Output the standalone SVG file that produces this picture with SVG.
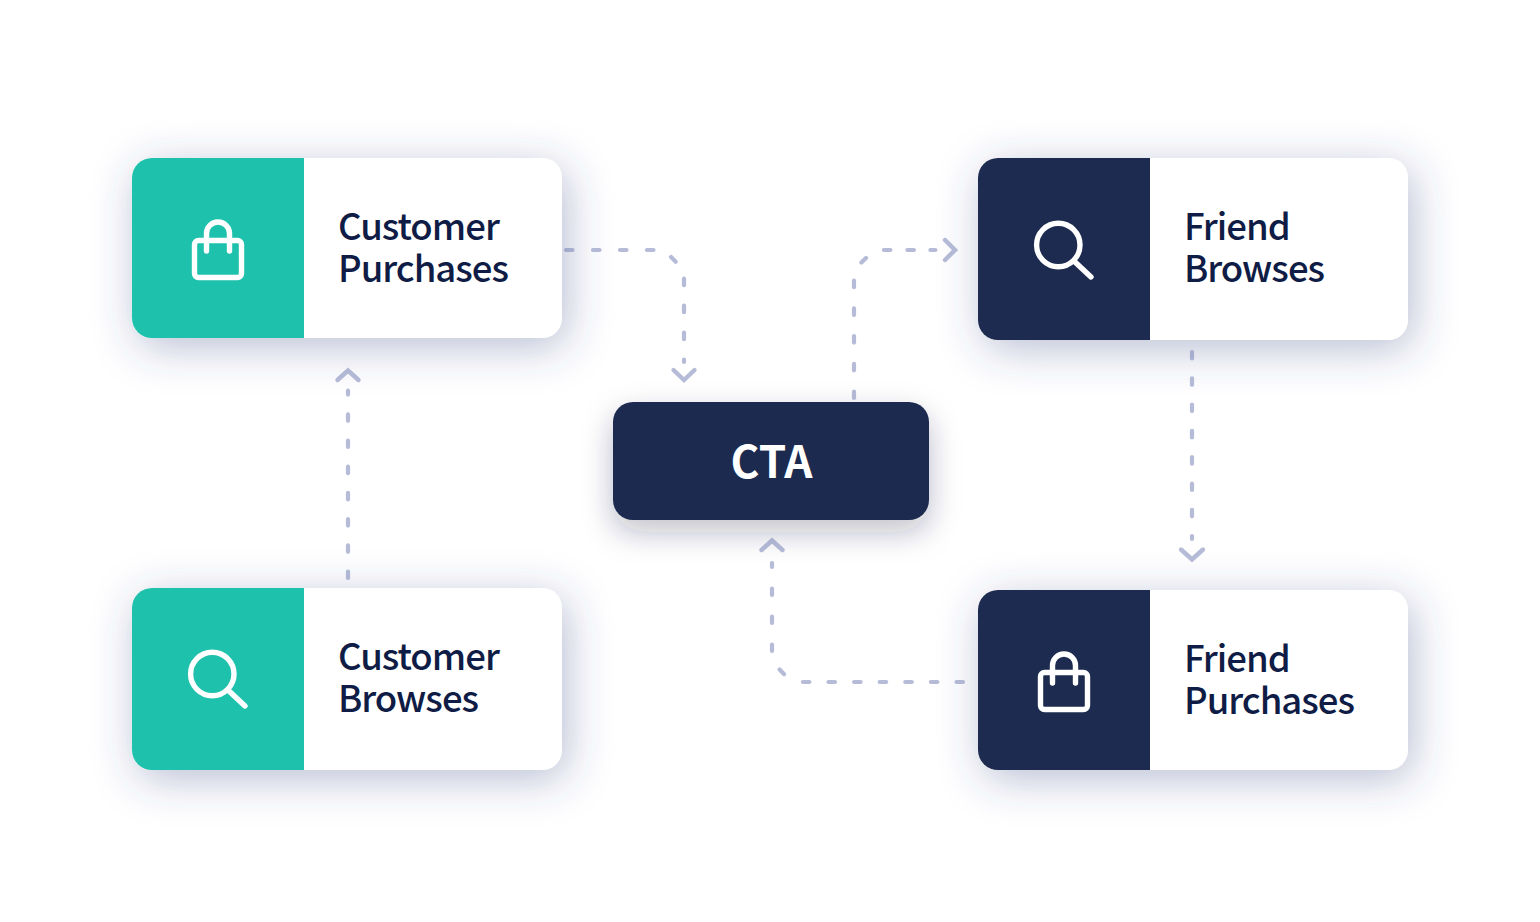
<svg xmlns="http://www.w3.org/2000/svg" width="1540" height="922" viewBox="0 0 1540 922">
<defs>
<filter id="sh" x="-30%" y="-60%" width="160%" height="220%"><feDropShadow dx="5" dy="9" stdDeviation="22" flood-color="#3a4a85" flood-opacity="0.36"/></filter>
<filter id="shc" x="-30%" y="-60%" width="160%" height="220%"><feDropShadow dx="0" dy="12" stdDeviation="15" flood-color="#1d2440" flood-opacity="0.28"/></filter>
</defs>
<style>
.card{fill:#fff;filter:url(#sh)}
.teal{fill:#1ec1ab}
.navy{fill:#1d2b50}
.ic{fill:none;stroke:#fff;stroke-width:5.400;stroke-linecap:round;stroke-linejoin:round}
.t{font-family:"Noto Sans CJK SC","Noto Sans",sans-serif;font-weight:500;font-size:36.5px;letter-spacing:-1px;fill:#0f1c45}
.cta{font-family:"Noto Sans CJK SC","Noto Sans",sans-serif;font-weight:700;font-size:44px;fill:#fff;text-anchor:middle}
.d{fill:none;stroke:#5f6da8;stroke-opacity:.46;stroke-width:4.200;stroke-linecap:round}
.h{fill:none;stroke:#5f6da8;stroke-opacity:.46;stroke-width:4.400;stroke-linecap:round;stroke-linejoin:miter}
</style>
<rect width="1540" height="922" fill="#fff"/>
<g id="node-customer-purchases">
<rect class="card" x="132" y="158" width="430" height="180" rx="20"/>
<path class="teal" d="M304 158H152a20 20 0 0 0-20 20V318a20 20 0 0 0 20 20H304Z"/>
<rect class="ic" x="194.500" y="240.500" width="47" height="37" rx="4"/>
<path class="ic" d="M206.500 251V233.500a11.500 11.500 0 0 1 23 0V251"/>
<text class="t" x="338" y="239.500">Customer</text><text class="t" x="338" y="281.500">Purchases</text>
</g>
<g id="node-friend-browses">
<rect class="card" x="978" y="158" width="430" height="182" rx="20"/>
<path class="navy" d="M1150 158H998a20 20 0 0 0-20 20V320a20 20 0 0 0 20 20H1150Z"/>
<circle class="ic" cx="1058.300" cy="245" r="21.700"/><path class="ic" d="M1075 262L1091 277"/>
<text class="t" x="1184" y="239.500">Friend</text><text class="t" x="1184" y="281.500">Browses</text>
</g>
<g id="node-customer-browses">
<rect class="card" x="132" y="588" width="430" height="182" rx="20"/>
<path class="teal" d="M304 588H152a20 20 0 0 0-20 20V750a20 20 0 0 0 20 20H304Z"/>
<circle class="ic" cx="212.300" cy="674" r="21.700"/><path class="ic" d="M229 691L245 706"/>
<text class="t" x="338" y="669.500">Customer</text><text class="t" x="338" y="711.500">Browses</text>
</g>
<g id="node-friend-purchases">
<rect class="card" x="978" y="590" width="430" height="180" rx="20"/>
<path class="navy" d="M1150 590H998a20 20 0 0 0-20 20V750a20 20 0 0 0 20 20H1150Z"/>
<rect class="ic" x="1040.500" y="672.500" width="47" height="37" rx="4"/>
<path class="ic" d="M1052.500 683V665.500a11.500 11.500 0 0 1 23 0V683"/>
<text class="t" x="1184" y="671.500">Friend</text><text class="t" x="1184" y="713.500">Purchases</text>
</g>
<g id="node-cta">
<rect class="navy" x="613" y="402" width="316" height="118" rx="20" style="filter:url(#shc)"/>
<text class="cta" x="771.500" y="477.500">CTA</text>
</g>
<g id="connectors">
<path class="d" stroke-dasharray="6.500 20.500" d="M566 250H664L684 270V362"/>
<path class="h" d="M673.500 370L684 380L694.500 370"/>
<path class="d" stroke-dasharray="6.500 21.200 6.500 21.200 6.500 21.200 6.500 21.200 6.500 21.200 6.500 21.200 6.500 17 6.500 16.500 5 100" d="M854 398V270L874 250H940"/>
<path class="h" d="M945 240L955 250L945 260"/>
<path class="d" stroke-dasharray="6.500 19.700" d="M348 578V390.500"/>
<path class="h" d="M337.500 380L348 370.500L358.500 380"/>
<path class="d" stroke-dasharray="6.500 19.800" d="M1192 352V539"/>
<path class="h" d="M1181 549.500L1192 559.500L1203 549.500"/>
<path class="d" stroke-dasharray="6.500 19.100 6.500 19.100 6.500 19.100 6.500 19.100 6.500 19.100 6.500 19.100 6.500 22 6.500 21.700 6.500 21.500 6.500 21.500 6.500 21.500 4 100" d="M963 682H792L772 662V563"/>
<path class="h" d="M761.500 550L772 540.500L782.500 550"/>
</g>
</svg>
